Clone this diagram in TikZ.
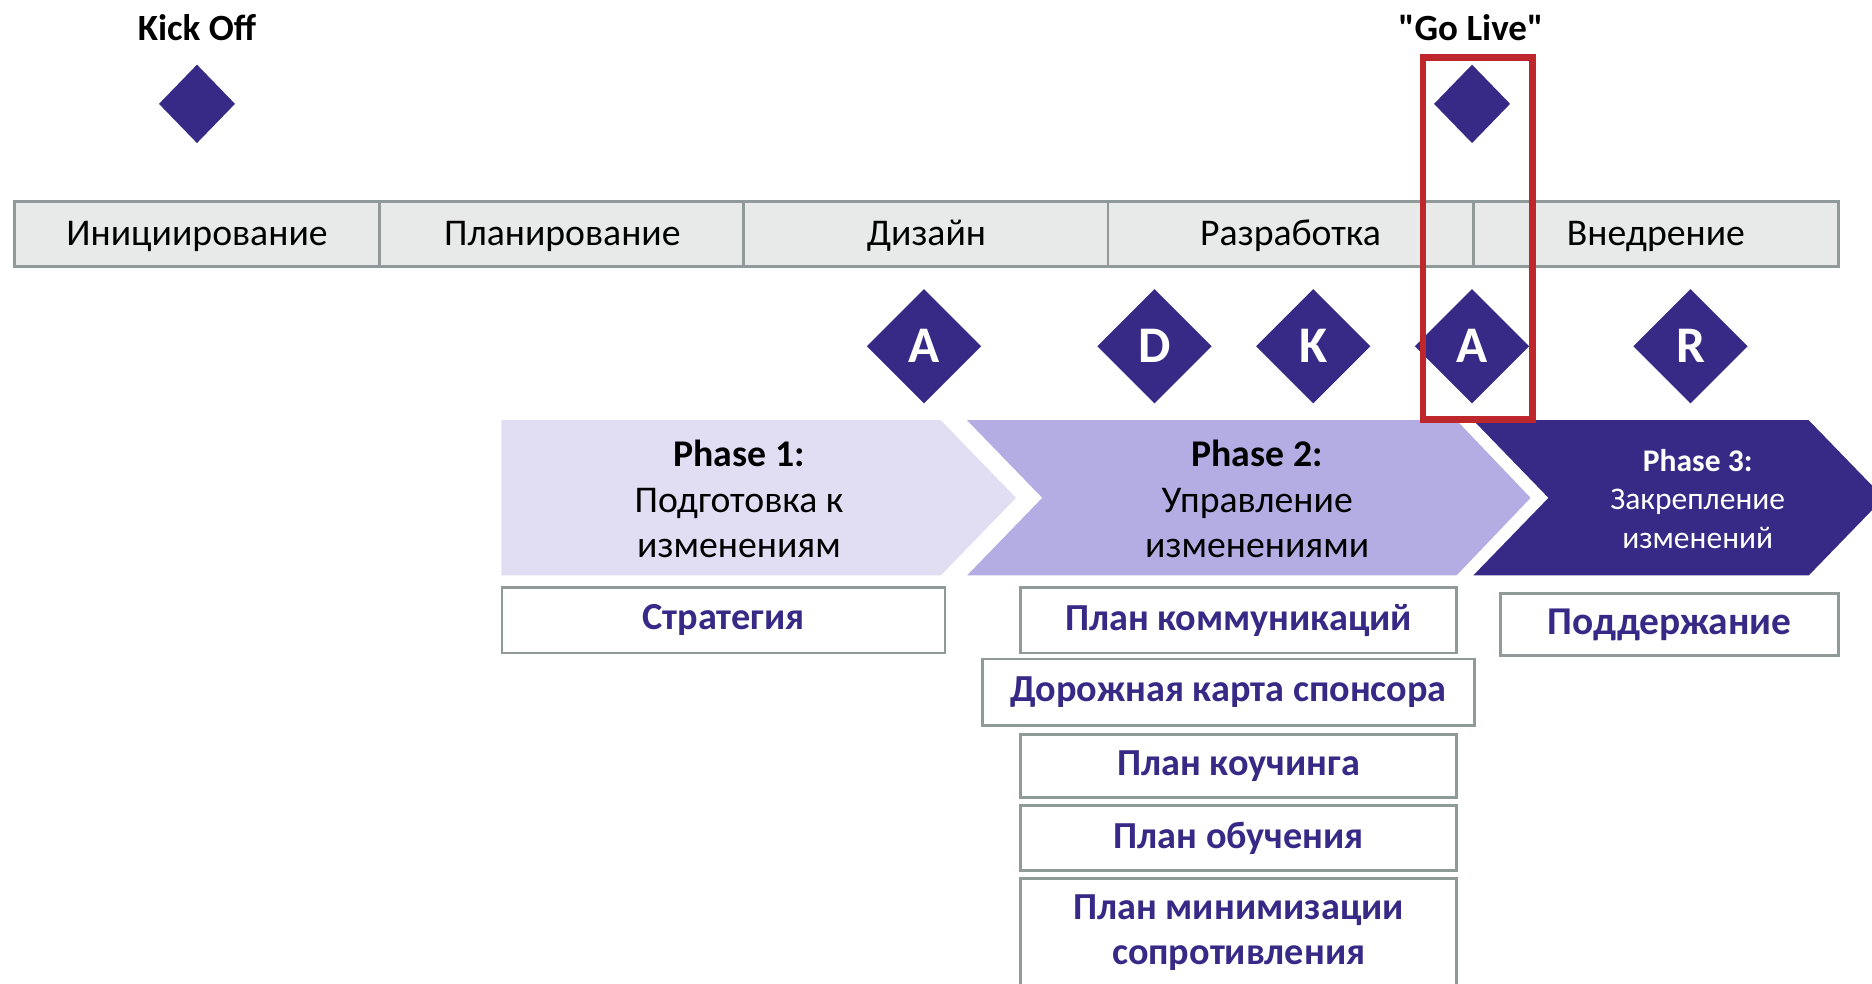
\documentclass[tikz,border=0pt]{standalone}
\usepackage{fontspec}
\setmainfont{Carlito}
\usepackage{tikz}
\usetikzlibrary{positioning}
\usetikzlibrary{shapes.geometric}
\definecolor{darkpurple}{RGB}{55,42,135}
\definecolor{lightlav}{RGB}{225,222,244}
\definecolor{midlav}{RGB}{180,173,228}
\definecolor{barfill}{RGB}{232,234,233}
\definecolor{bargray}{RGB}{143,154,153}
\definecolor{liveRed}{RGB}{190,40,45}
\tikzstyle{milestone}=[diamond,aspect=1,fill=darkpurple,inner sep=0pt,minimum width=32pt,minimum height=33pt]
\tikzstyle{gate}=[diamond,aspect=1,fill=darkpurple,inner sep=0pt,minimum size=48pt,text=white,font=\fontsize{21.5}{21.5}\selectfont\bfseries]
\tikzstyle{stage}=[rectangle,draw=bargray,line width=1.2pt,fill=barfill,minimum width=153pt,minimum height=27.5pt,inner sep=0pt,text height=11pt,text depth=1pt,font=\fontsize{15.8}{18}\selectfont]
\tikzstyle{task}=[rectangle,draw=bargray,line width=1.2pt,fill=white,inner sep=0pt,text=darkpurple,align=center,font=\fontsize{16}{19}\selectfont\bfseries]
\tikzstyle{phasetext}=[align=center,font=\fontsize{15.8}{19}\selectfont]
\tikzstyle{toplabel}=[font=\fontsize{15.5}{18}\selectfont\bfseries]

\begin{document}
\begin{tikzpicture}[x=0.5pt, y=-0.5pt]

  \useasboundingbox (0,0) rectangle (1568,824);
  \clip (0,0) rectangle (1568,824);

  % milestones
  \node[toplabel] (kicklbl) at (165,23) {Kick Off};
  \node[milestone] (kick) at (165,87) {};
  \node[toplabel] (livelbl) at (1232,23) {\textquotedbl Go Live\textquotedbl};
  \node[milestone] (live) at (1233,87) {};

  % stage bar
  \foreach \x/\name/\label in {165/init/Инициирование, 471/plan/Планирование, 776/design/Дизайн, 1081/dev/Разработка, 1387/impl/Внедрение}
          \node[stage] (\name) at (\x,196) {\label};

  \foreach \x/\name/\label in {774/gA/A, 967/gD/D, 1100/gK/K, 1233/gAlive/A, 1416/gR/R}
          \node[gate] (\name) at (\x,290) {\label};

  % phases
  \fill[lightlav] (420,352) -- (788,352) -- (851,417) -- (788,482) -- (420,482) -- cycle;
  \fill[midlav] (810,352) -- (1220,352) -- (1282,417) -- (1220,482) -- (810,482) -- (873,417) -- cycle;
  \fill[darkpurple] (1234,352) -- (1515,352) -- (1578,417) -- (1515,482) -- (1234,482) -- (1297,417) -- cycle;

  \node[phasetext] (ph1) at (619,418) {\textbf{Phase 1:}\\Подготовка к\\изменениям};
  \node[phasetext] (ph2) at (1053,418) {\textbf{Phase 2:}\\Управление\\изменениями};
  \node[phasetext, text=white, font=\fontsize{13.2}{16}\selectfont] (ph3) at (1422,418) {\textbf{Phase 3:}\\Закрепление\\изменений};

  \foreach \x/\y/\w/\h/\name/\label in {606/519.5/185.5/27.5/strat/Стратегия,
                                        1037.5/519.5/182.5/27.5/comm/План коммуникаций,
                                        1029/580/206/28/sponsor/Дорожная карта спонсора,
                                        1037.5/641.5/182.5/26.5/coach/План коучинга,
                                        1037.5/702/182.5/27/train/План обучения,
                                        1037.5/781/182.5/45/resist/{План минимизации\\сопротивления}}
          \node[task, minimum width=\w pt, minimum height=\h pt] (\name) at (\x,\y) {\label};
  \node[task, minimum width=141.5pt, minimum height=26pt, font=\fontsize{16.5}{19}\selectfont\bfseries] (support) at (1398.5,523) {Поддержание};

  \draw[liveRed, line width=2.8pt] (1192,48) rectangle (1283.5,351.5);

\end{tikzpicture}
\end{document}
